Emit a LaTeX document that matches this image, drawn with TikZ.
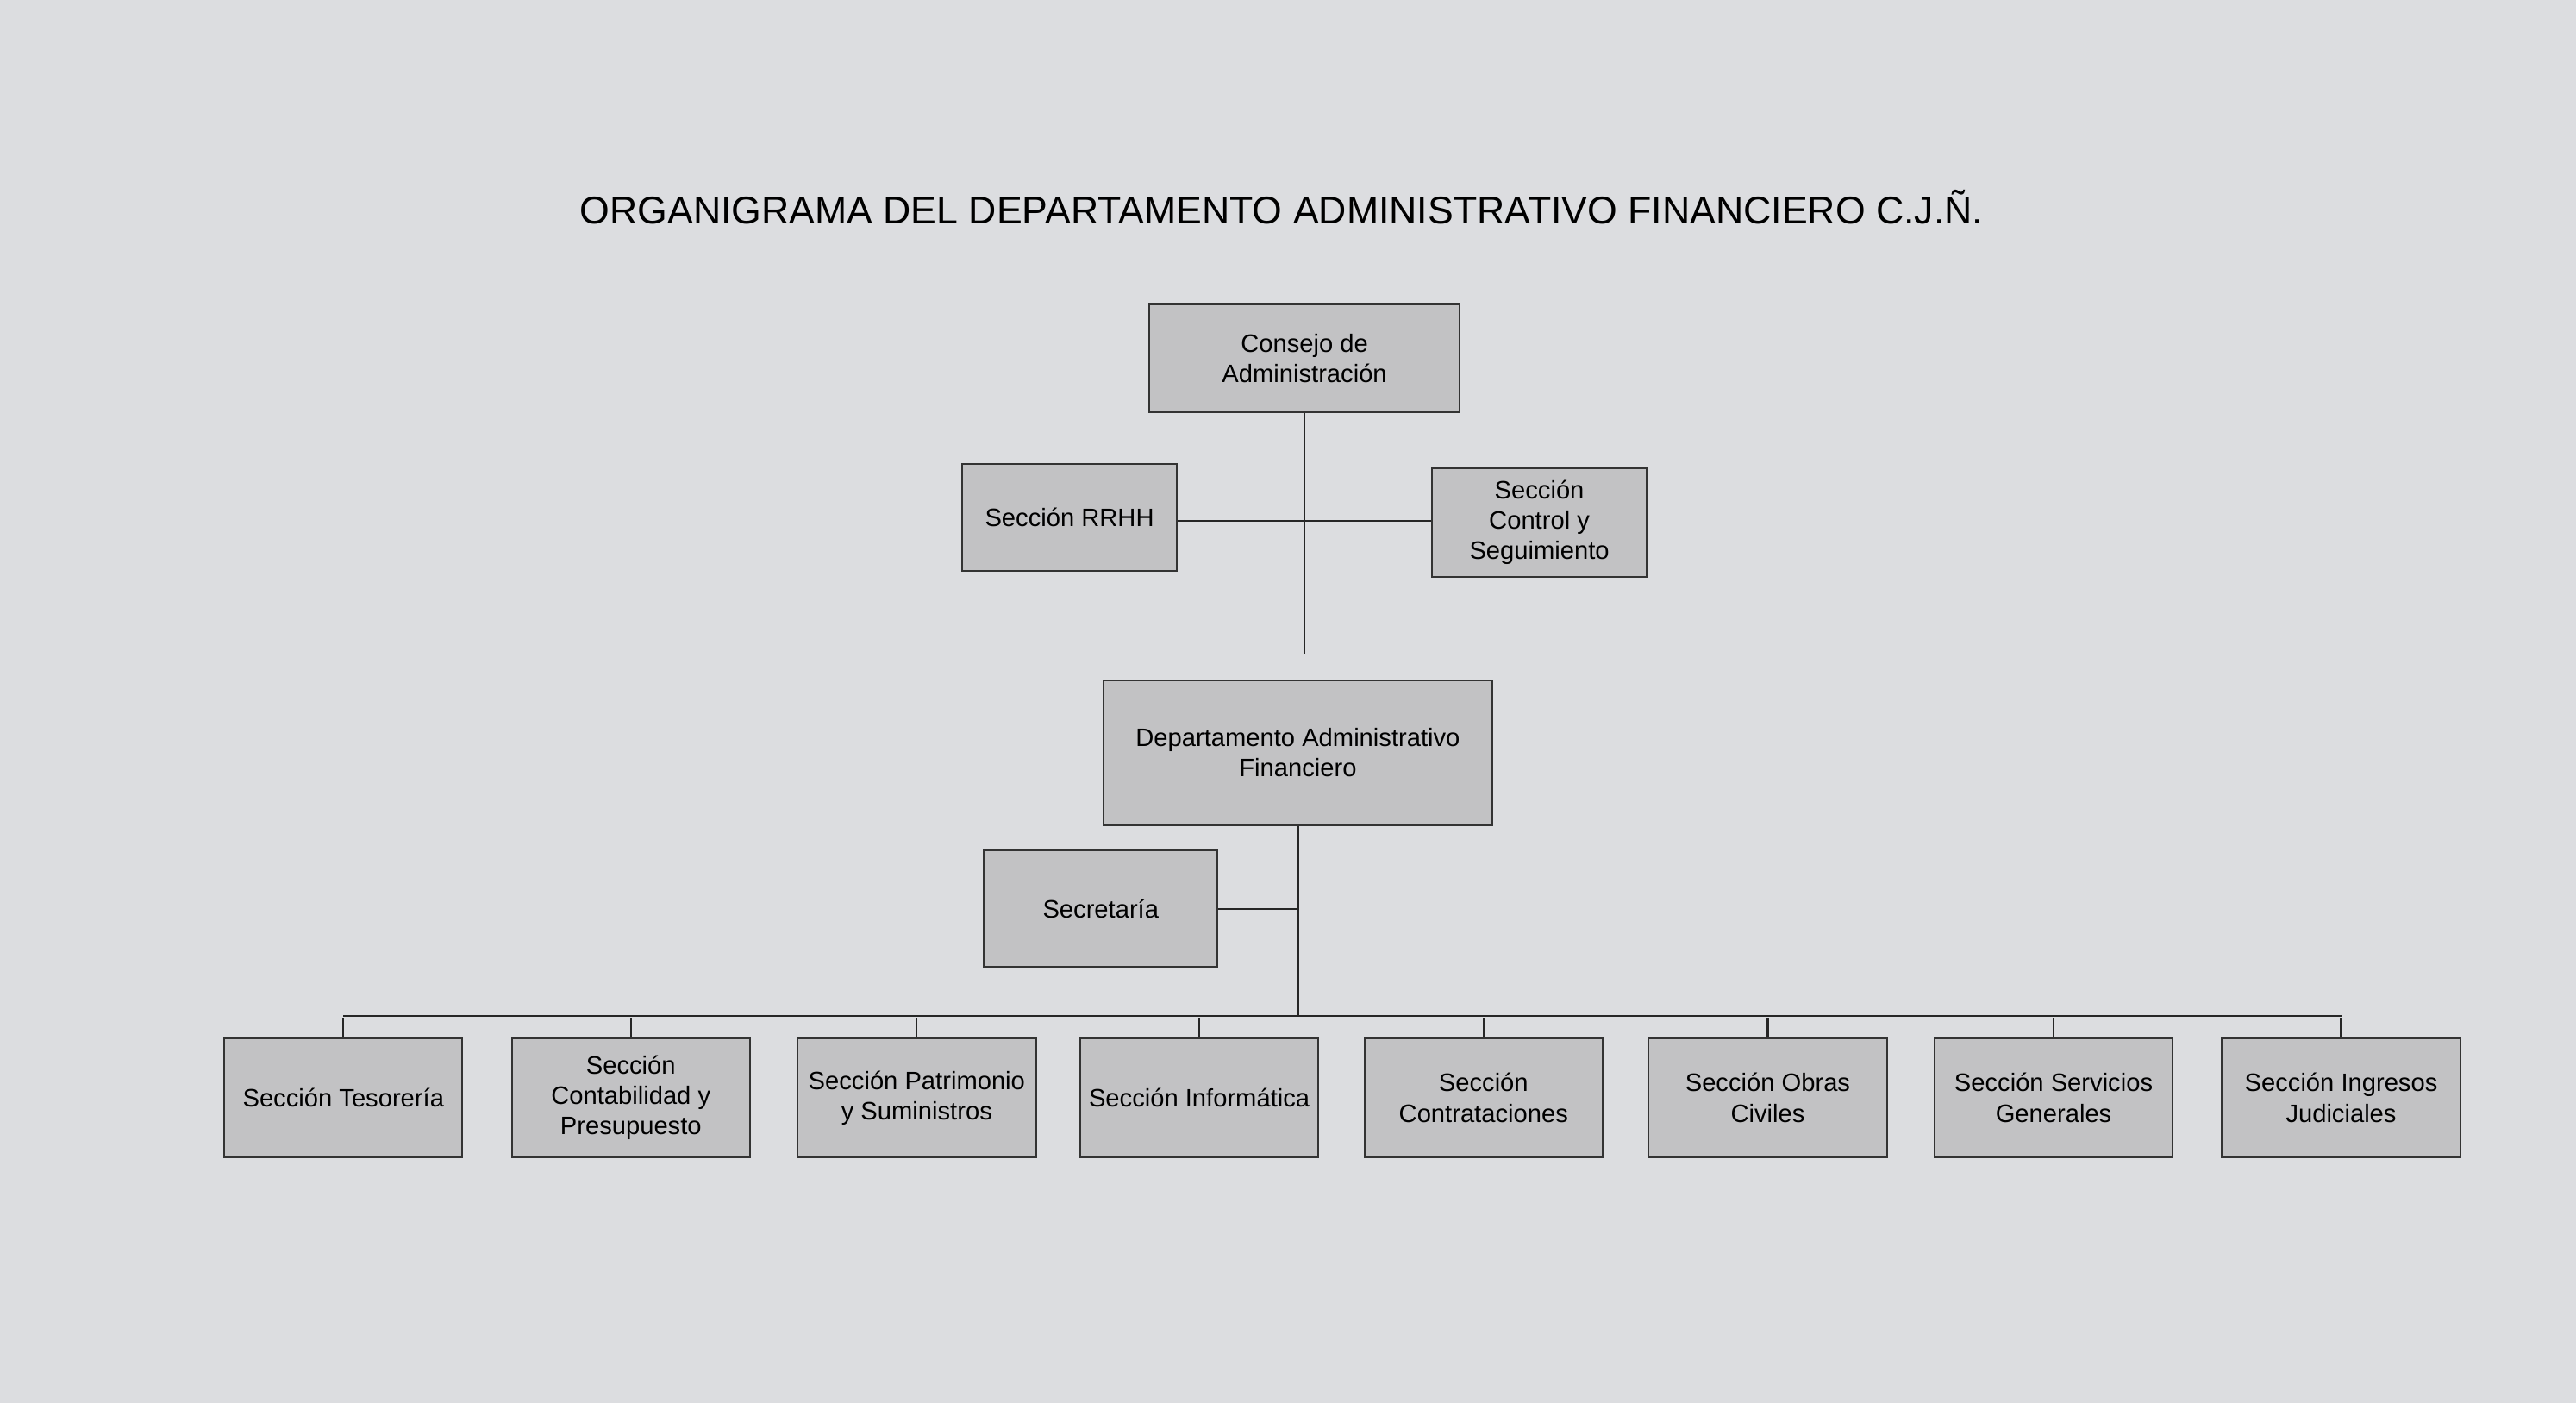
\documentclass[tikz,border=0pt]{standalone}
\usepackage{fontspec}
\setmainfont{Liberation Sans}
\usetikzlibrary{positioning}
\definecolor{paper}{HTML}{DCDDE0}
\definecolor{boxgray}{HTML}{C2C2C4}
\tikzset{
  unitbox/.style={draw=black!80, fill=boxgray, line width=0.6pt, align=center,
    font=\fontsize{8.3}{10}\selectfont, inner sep=1pt},
  link/.style={draw=black!85, line width=0.6pt}
}
\begin{document}
\begin{tikzpicture}[x=0.019056cm, y=-0.019056cm]
  % background
  \fill[paper] (0,0) rectangle (1568,854);
  \useasboundingbox (0,0) rectangle (1568,854);
  \node (title) at (780,126) {\fontsize{12.7}{14}\selectfont ORGANIGRAMA DEL DEPARTAMENTO ADMINISTRATIVO FINANCIERO C.J.Ñ.};
  % upper levels
  \node[unitbox, minimum width=189*0.019056cm, minimum height=66*0.019056cm] (consejo) at (794,218) {Consejo de\\Administración};
  \node[unitbox, minimum width=131*0.019056cm, minimum height=65*0.019056cm] (rrhh) at (651,315) {Sección RRHH};
  \node[unitbox, minimum width=131*0.019056cm, minimum height=66*0.019056cm] (control) at (937,318) {Sección\\Control y\\Seguimiento};
  \node[unitbox, minimum width=237*0.019056cm, minimum height=88*0.019056cm] (dept) at (790,458) {Departamento Administrativo\\Financiero};
  \node[unitbox, minimum width=142*0.019056cm, minimum height=71*0.019056cm] (secre) at (670,553) {Secretaría};
  \coordinate (cend) at (794,398);
  \coordinate (cmid) at (794,317);
  \coordinate (dmid) at (790,553);
  \coordinate (bus) at (790,618);
  \draw[link] (consejo) -- (cend);
  \draw[link] (rrhh.east |- cmid) -- (control.west |- cmid);
  \draw[link] (dept) -- (bus);
  \draw[link] (secre) -- (dmid);
  % sections
  \foreach \name/\x/\txt in {tes/209/Sección Tesorería, cont/384/{Sección\\Contabilidad y\\Presupuesto},
      pat/558/{Sección Patrimonio\\y Suministros}, inf/730/Sección Informática,
      contr/903/{Sección\\Contrataciones}, obras/1076/{Sección Obras\\Civiles},
      serv/1250/{Sección Servicios\\Generales}, ing/1425/{Sección Ingresos\\Judiciales}} {
    \node[unitbox, minimum width=145*0.019056cm, minimum height=72*0.019056cm] (\name) at (\x,668) {\txt};
    \draw[link] (\name.north) -- (\x,619);
  }
  \draw[link] (tes.north |- bus) -- (ing.north |- bus);
\end{tikzpicture}
\end{document}
